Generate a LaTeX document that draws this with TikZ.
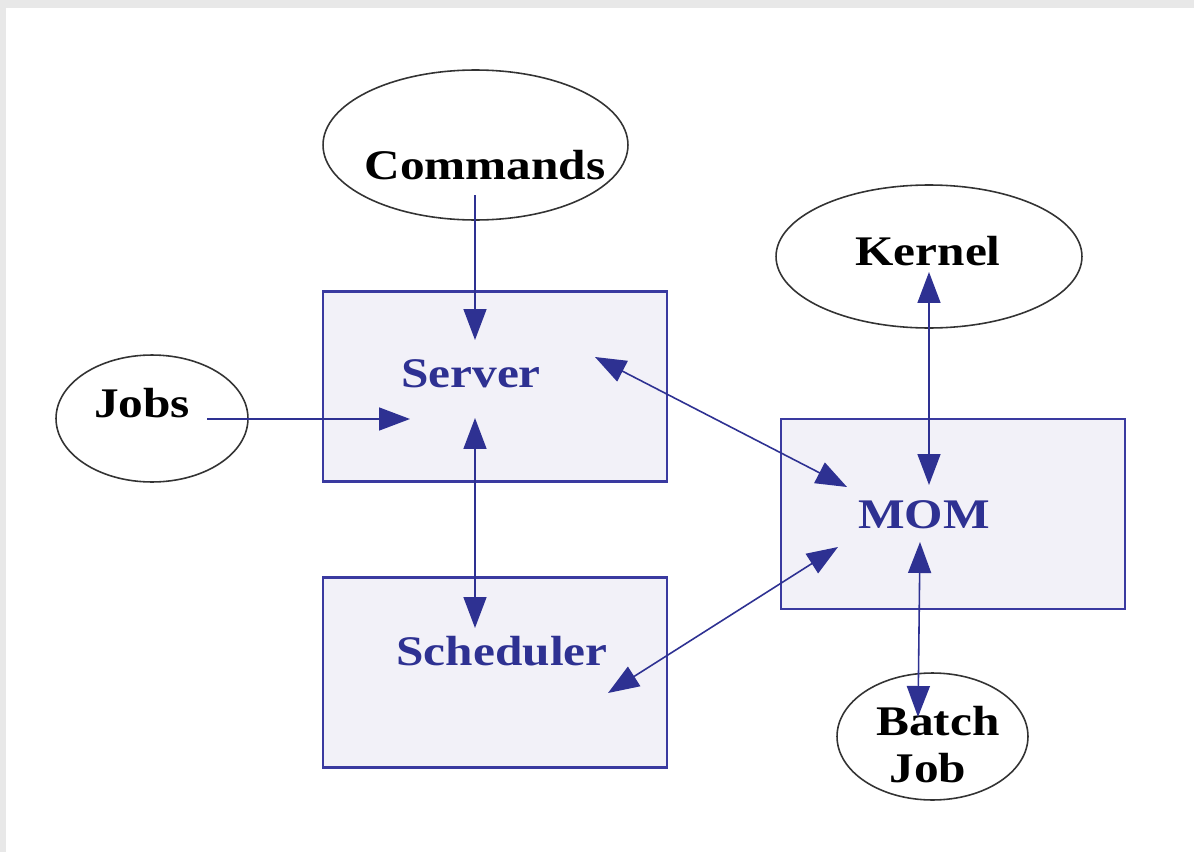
\documentclass[tikz,border=0pt]{standalone}
\usepackage{fontspec}
\setmainfont{Liberation Serif}[FakeStretch=1.17]
\usetikzlibrary{arrows.meta,shapes.geometric}

\definecolor{pbsblue}{RGB}{46,49,146}
\definecolor{pbsedge}{RGB}{58,58,160}
\definecolor{pbsfill}{RGB}{242,241,248}

\begin{document}
\begin{tikzpicture}[x=0.02cm, y=-0.02cm,
    >={Triangle[length=0.62cm, width=0.46cm]},
    daemon/.style={draw=pbsedge, line width=1.4pt, fill=pbsfill, minimum width=6.88cm, minimum height=3.8cm, inner sep=0pt},
    source/.style={draw=black!80, line width=0.9pt, ellipse, inner sep=0pt},
    dlabel/.style={text=pbsblue, font=\bfseries\fontsize{24}{26}\selectfont, anchor=base},
    slabel/.style={text=black, font=\bfseries\fontsize{24}{26}\selectfont, anchor=base, align=center},
    link/.style={draw=pbsblue, line width=0.9pt}]
    \useasboundingbox (0,0) rectangle (1194,852);
    \fill[black!9] (0,0) rectangle (1194,852);
    \fill[white] (6,8) rectangle (1194,852);

    % the three daemons
    \node[daemon] (server) at (495,386.5) {};
    \node[daemon] (sched) at (495,672.5) {};
    \node[daemon] (mom) at (953,514) {};
    \node[dlabel] (serverlbl) at (471,387) {Server};
    \node[dlabel] (schedlbl) at (502,665) {Scheduler};
    \node[dlabel] (momlbl) at (924,528) {MOM};

    % outside sources
    \node[source, minimum width=6.1cm, minimum height=3cm] (cmd) at (475.5,145) {};
    \node[source, minimum width=6.12cm, minimum height=2.86cm] (kernel) at (929,256.5) {};
    \node[source, minimum width=3.84cm, minimum height=2.54cm] (jobs) at (152,418.5) {};
    \node[source, minimum width=3.82cm, minimum height=2.54cm] (batch) at (932.5,736.5) {};
    \node[slabel] (cmdlbl) at (485,179) {Commands};
    \node[slabel] (kernellbl) at (928,265) {Kernel};
    \node[slabel] (jobslbl) at (142,417) {Jobs};
    \node[slabel] (batchlbl) at (938,735) {Batch};
    \node[slabel] (joblbl) at (928,782) {Job};

    % arrow ends
    \coordinate (cmd-out) at (475,195);
    \coordinate (srv-top) at (475,340);
    \coordinate (jobs-out) at (207,419);
    \coordinate (srv-left) at (410,419);
    \coordinate (srv-low) at (475,418);
    \coordinate (sch-top) at (475,628);
    \coordinate (srv-right) at (595,357);
    \coordinate (mom-ul) at (847,487);
    \coordinate (sch-right) at (608,693);
    \coordinate (mom-ll) at (838,547);
    \coordinate (krn-low) at (929,272);
    \coordinate (mom-top) at (929,485);
    \coordinate (mom-low) at (920,542);
    \coordinate (bat-top) at (918,717);

    \draw[link,->] (cmd-out) -- (srv-top);
    \draw[link,->] (jobs-out) -- (srv-left);
    \draw[link,<->] (srv-low) -- (sch-top);
    \draw[link,<->] (srv-right) -- (mom-ul);
    \draw[link,<->] (sch-right) -- (mom-ll);
    \draw[link,<->] (krn-low) -- (mom-top);
    \draw[link,<->] (mom-low) -- (bat-top);
\end{tikzpicture}
\end{document}
